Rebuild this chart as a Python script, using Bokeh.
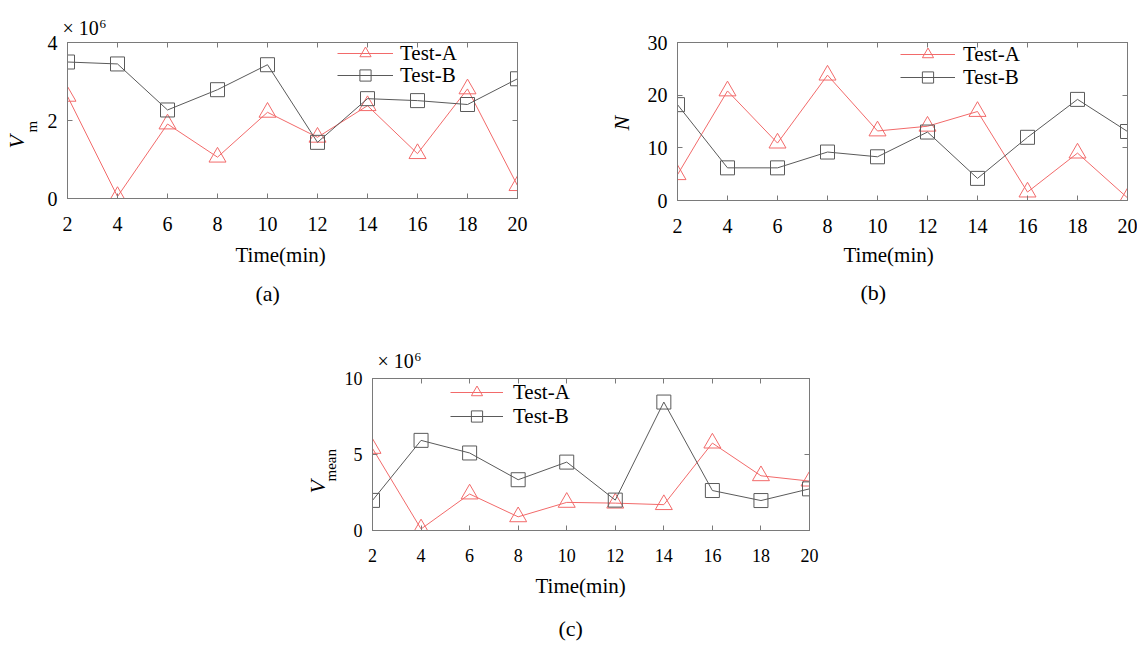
from bokeh.plotting import figure
from bokeh.layouts import column, row
from bokeh.models import (Range1d, FixedTicker, LinearAxis, Legend, LegendItem,
                          Spacer, CustomJSTickFormatter, Title)
from bokeh.embed import file_html
from bokeh.resources import INLINE

# ---------------- data ----------------
time_min = [2, 4, 6, 8, 10, 12, 14, 16, 18, 20]
x_ticks = [2, 4, 6, 8, 10, 12, 14, 16, 18, 20]

# (a) V_m  (x 10^6)
vm_test_a = [2.62, 0.05, 1.91, 1.06, 2.21, 1.57, 2.38, 1.15, 2.81, 0.33]
vm_test_b = [3.50, 3.45, 2.27, 2.79, 3.43, 1.44, 2.56, 2.51, 2.41, 3.07]
vm_ticks = [0, 2, 4]

# (b) N
n_test_a = [4.9, 20.8, 10.9, 23.8, 13.2, 14.1, 16.9, 1.6, 9.0, 0.5]
n_test_b = [18.2, 6.2, 6.2, 9.2, 8.3, 13.0, 4.2, 12.0, 19.2, 13.1]
n_ticks = [0, 10, 20, 30]

# (c) V_mean  (x 10^6)
vmean_test_a = [5.4, 0.1, 2.4, 0.9, 1.85, 1.8, 1.7, 5.75, 3.6, 3.25]
vmean_test_b = [1.98, 5.93, 5.1, 3.34, 4.5, 2.0, 8.45, 2.63, 1.97, 2.74]
vmean_ticks = [0, 5, 10]

series_names = ["Test-A", "Test-B"]
x_label = "Time(min)"

# ---------------- style ----------------
RED = "#F26A6A"
GRAY = "#5A5A5A"
FRAME = "#7A7A7A"
SERIF = "Liberation Serif"


def style_axis(ax, ticks, tick_size, labels=True):
    ax.ticker = FixedTicker(ticks=ticks)
    ax.major_tick_in = 5
    ax.major_tick_out = 0
    ax.minor_tick_line_color = None
    ax.axis_line_color = FRAME
    ax.major_tick_line_color = FRAME
    ax.major_label_text_font = SERIF
    ax.major_label_text_font_size = tick_size
    ax.major_label_text_color = "black"
    if not labels:
        ax.formatter = CustomJSTickFormatter(code="return ''")
        ax.major_label_standoff = 0
        ax.major_label_text_font_size = "1px"


def title(text, size, offset, standoff, valign="bottom", style="normal"):
    return Title(text=text, align="left", offset=offset, standoff=standoff,
                 vertical_align=valign, text_font=SERIF, text_font_size=size,
                 text_font_style=style, text_color="black")


def make_panel(fw, fh, left, right, top, bottom, y_end, y_ticks, ya, yb, leg, tick_size):
    p = figure(frame_width=fw, frame_height=fh,
               min_border_left=left, min_border_right=right,
               min_border_top=top, min_border_bottom=bottom,
               x_range=Range1d(2, 20), y_range=Range1d(0, y_end),
               output_backend="svg", toolbar_location=None)
    p.grid.visible = False
    p.outline_line_color = FRAME
    p.background_fill_color = "white"
    p.border_fill_color = "white"

    style_axis(p.xaxis[0], x_ticks, tick_size)
    p.xaxis[0].major_label_standoff = 18
    style_axis(p.yaxis[0], y_ticks, tick_size)
    p.yaxis[0].major_label_standoff = 10

    top_ax = LinearAxis()
    style_axis(top_ax, x_ticks, tick_size, labels=False)
    p.add_layout(top_ax, "above")
    right_ax = LinearAxis()
    style_axis(right_ax, y_ticks, tick_size, labels=False)
    p.add_layout(right_ax, "right")

    la = p.line(time_min, ya, line_color=RED, line_width=1)
    sa = p.scatter(time_min, ya, marker="triangle", size=17,
                   fill_color=None, line_color=RED, line_width=1)
    lb = p.line(time_min, yb, line_color=GRAY, line_width=1)
    sb = p.scatter(time_min, yb, marker="square", size=14,
                   fill_color=None, line_color=GRAY, line_width=1)

    lx, ly_a, ly_b, gw, ls = leg
    for name, rends, ly in ((series_names[0], [la, sa], ly_a),
                            (series_names[1], [lb, sb], ly_b)):
        lg = Legend(items=[LegendItem(label=name, renderers=rends)], location=(lx, ly))
        lg.glyph_width = gw
        lg.glyph_height = 28
        lg.label_height = 28
        lg.padding = 0
        lg.margin = 0
        lg.spacing = 0
        lg.label_standoff = ls
        lg.label_text_font = SERIF
        lg.label_text_font_size = "21px"
        lg.label_text_color = "black"
        lg.border_line_alpha = 0
        lg.background_fill_alpha = 0
        p.add_layout(lg, "center")
    return p


# ---------------- panel (a) ----------------
pa = make_panel(450, 156, 67, 20, 42, 120, 4, vm_ticks, vm_test_a, vm_test_b,
                (270, 131, 109, 56, 7), "20px")
pa.add_layout(title("m", "15px", 66, 10), "left")
pa.add_layout(title("V", "22px", 50, -24, style="italic"), "left")
pa.add_layout(title(" ", "1px", 0, 11), "above")
pa.add_layout(title("\u00d7 10", "20px", -5, -20), "above")
pa.add_layout(title("6", "13px", 32, -7), "above")
pa.add_layout(title(x_label, "21px", 168, 17, valign="middle"), "below")
pa.add_layout(title(" ", "1px", 0, 0), "below")
pa.add_layout(title("(a)", "22px", 188, 0, valign="middle"), "below")

# ---------------- panel (b) ----------------
pb = make_panel(450, 158, 140, 10, 41, 119, 30, n_ticks, n_test_a, n_test_b,
                (223, 132, 109, 55, 8), "20px")
pb.add_layout(title("N", "22px", 70, 22, style="italic"), "left")
pb.add_layout(title(x_label, "21px", 166, 13, valign="middle"), "below")
pb.add_layout(title(" ", "1px", 0, 1), "below")
pb.add_layout(title("(b)", "22px", 183, 0, valign="middle"), "below")

# ---------------- panel (c) ----------------
pc = make_panel(437, 152, 100, 20, 60, 115, 10, vmean_ticks, vmean_test_a, vmean_test_b,
                (78, 124, 100, 53, 10), "18px")
pc.add_layout(title("mean", "15px", 49, 6), "left")
pc.add_layout(title("V", "22px", 37, -25, style="italic"), "left")
pc.add_layout(title(" ", "1px", 0, 14), "above")
pc.add_layout(title("\u00d7 10", "20px", 5, -20), "above")
pc.add_layout(title("6", "13px", 42, -7), "above")
pc.add_layout(title(x_label, "21px", 163, 17, valign="middle"), "below")
pc.add_layout(title(" ", "1px", 0, 4), "below")
pc.add_layout(title("(c)", "22px", 186, 0, valign="middle"), "below")

layout = column(row(pa, pb), row(Spacer(width=272, height=10), pc))

open("out.html", "w").write(file_html(layout, INLINE))
